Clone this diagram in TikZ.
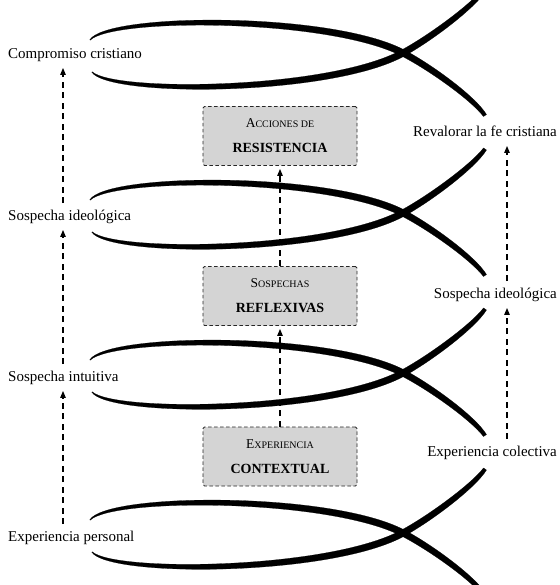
\documentclass[tikz,border=0pt]{standalone}
\usepackage{fontspec}
\setmainfont{Liberation Serif}
\usetikzlibrary{calc,arrows.meta}

% One tapered stroke segment: a cubic with points #1..#4 and half-widths #5..#8,
% filled between its two offset edges.
\newcommand\taperseg[8]{%
  \fill[strand] ($(#1)!#5!-90:(#2)$)
    .. controls ($(#2)!#6!90:(#1)$) and ($(#3)!#7!-90:(#4)$) .. ($(#4)!#8!90:(#3)$)
    -- ($(#4)!#8!-90:(#3)$)
    .. controls ($(#3)!#7!90:(#4)$) and ($(#2)!#6!-90:(#1)$) .. ($(#1)!#5!90:(#2)$)
    -- cycle;}

\begin{document}
\begin{tikzpicture}[x=1pt,y=-1pt,
  strand/.style={fill=black,draw=black,line width=0.2pt},
  lbl/.style={font=\fontsize{15}{18}\selectfont,inner sep=0pt,text height=10pt,text depth=3.5pt},
  stagebox/.style={draw=black!85,dash pattern=on 3.5pt off 2.5pt,line width=0.9pt,
    fill=black!17,rounded corners=1.5pt,minimum width=154pt,minimum height=59pt,
    align=center,inner sep=0pt,font=\fontsize{14}{25}\selectfont},
  flow/.style={line width=1.2pt,dash pattern=on 6pt off 4.5pt,
    -{Triangle[length=7pt,width=5.5pt]}},
  lblflow/.style={flow,shorten <=7pt,shorten >=6pt},
  boxflow/.style={flow,shorten >=3pt}]

\useasboundingbox (0,0) rectangle (559,585);

% the four fish, each crossing at the right of its body
\begin{scope}
  \clip (0,0) rectangle (559,585);
  \foreach \yc in {53,213,373,533}{
    \begin{scope}[shift={(0,\yc)}]
      % upper body branch, continuing into the lower tail
      \taperseg{90,-13}{110,-38}{330,-38}{403,0}{0.3pt}{4.2pt}{4.0pt}{3.3pt}
      \taperseg{403,0}{429.6,13.9}{472.4,44.4}{485,62.5}{3.3pt}{3.2pt}{3.0pt}{1.8pt}
      % lower body branch, continuing into the upper tail
      \taperseg{92,19}{112,42}{330,40}{403,0}{0.3pt}{4.2pt}{4.0pt}{3.3pt}
      \taperseg{403,0}{429.3,-14.4}{472.4,-46}{485,-64}{3.3pt}{3.2pt}{3.0pt}{1.8pt}
    \end{scope}}
\end{scope}

% personal path (left)
\node[lbl,anchor=west] (cc)  at (8,55)  {Compromiso cristiano};
\node[lbl,anchor=west] (sil) at (8,217) {Sospecha ideológica};
\node[lbl,anchor=west] (sin) at (8,378) {Sospecha intuitiva};
\node[lbl,anchor=west] (ep)  at (8,538) {Experiencia personal};

% collective path (right)
\node[lbl,anchor=east] (rf)  at (557,133) {Revalorar la fe cristiana};
\node[lbl,anchor=east] (sir) at (557,295) {Sospecha ideológica};
\node[lbl,anchor=east] (ec)  at (557,453) {Experiencia colectiva};

% stages (centre)
\node[stagebox] (acc) at (280,136)
  {{\fontsize{13.5}{25}\selectfont A\fontsize{10}{25}\selectfont CCIONES DE}\\{\bfseries RESISTENCIA}};
\node[stagebox] (sos) at (280,296)
  {{\fontsize{13.5}{25}\selectfont S\fontsize{10}{25}\selectfont OSPECHAS}\\{\bfseries REFLEXIVAS}};
\node[stagebox] (exp) at (280,456.5)
  {{\fontsize{13.5}{25}\selectfont E\fontsize{10}{25}\selectfont XPERIENCIA}\\{\bfseries CONTEXTUAL}};

\coordinate (colL) at (63,0);
\coordinate (colR) at (507,0);

\draw[lblflow] (ep.north -| colL) -- (sin.south -| colL);
\draw[lblflow] (sin.north -| colL) -- (sil.south -| colL);
\draw[lblflow] (sil.north -| colL) -- (cc.south -| colL);

\draw[boxflow] (exp.north) -- (sos.south);
\draw[boxflow] (sos.north) -- (acc.south);

\draw[lblflow] (ec.north -| colR) -- (sir.south -| colR);
\draw[lblflow] (sir.north -| colR) -- (rf.south -| colR);
\end{tikzpicture}
\end{document}
